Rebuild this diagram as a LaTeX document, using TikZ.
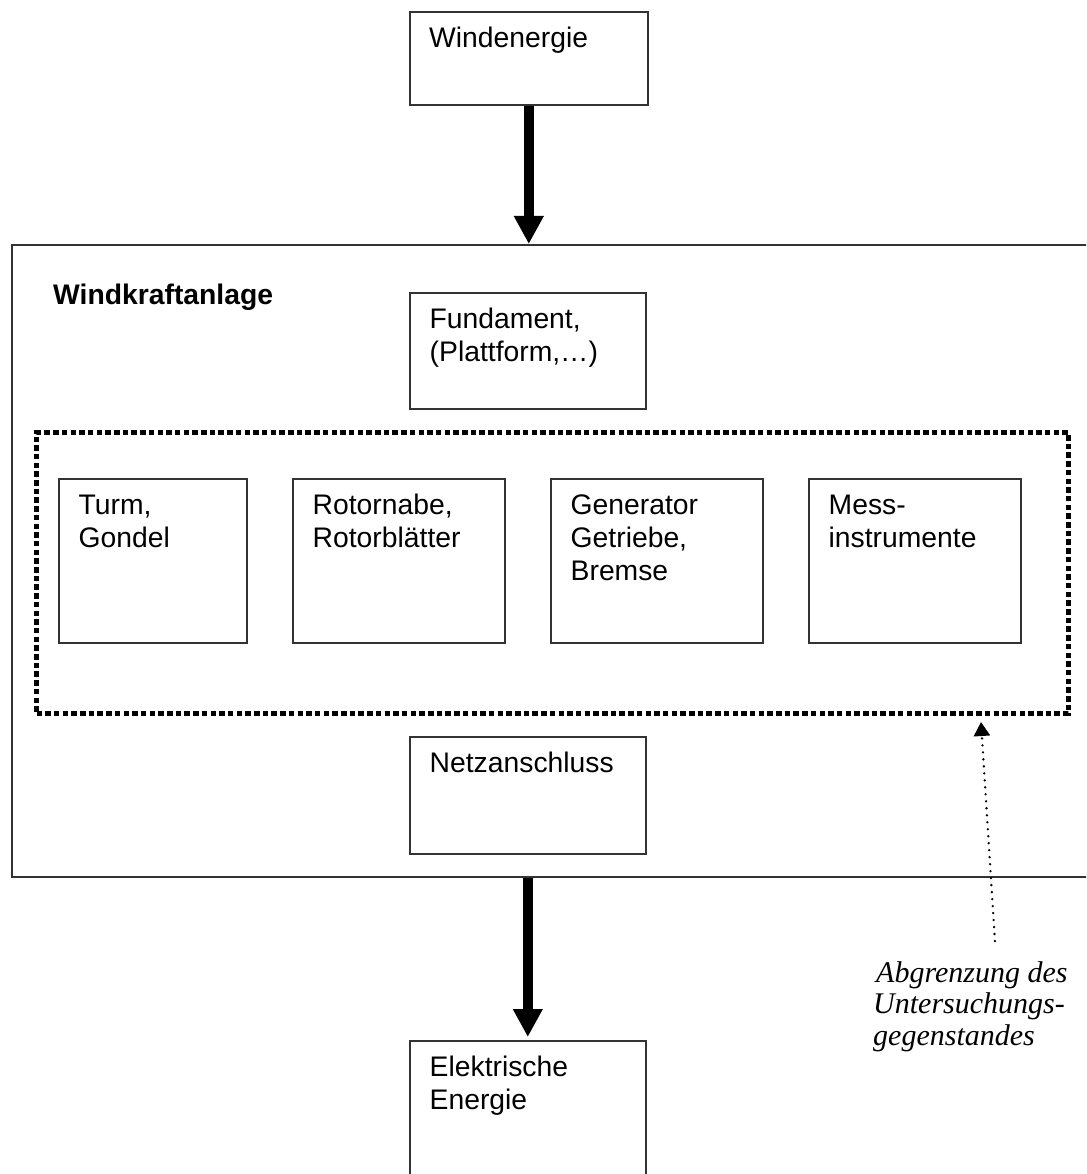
\documentclass[tikz,border=0pt]{standalone}
\usepackage{fontspec}
\setmainfont{Liberation Sans}
\newfontfamily\noteserif{Liberation Serif}
\usetikzlibrary{arrows.meta,calc}

\begin{document}
\begin{tikzpicture}[x=1pt,y=-1pt,
  box/.style={draw=black!80, line width=1.6pt, fill=none, anchor=north west, inner sep=0pt},
  % base anchor of a multi-line node sits on its last line
  txt/.style={anchor=base west, inner sep=0pt, align=left,
              font=\fontsize{28.3pt}{33pt}\selectfont},
  heading/.style={txt, font=\fontsize{28.3pt}{33pt}\selectfont\bfseries},
  note/.style={anchor=base west, inner sep=0pt, align=left,
               font=\fontsize{30pt}{31.5pt}\selectfont\noteserif\itshape},
  flow/.style={line width=10pt, -{Triangle[width=28pt,length=28pt]}},
  boundary/.style={draw=black, line width=5pt, dash pattern=on 5.5pt off 3.2pt},
  pointer/.style={line width=2.6pt, line cap=round, dash pattern=on 0pt off 7pt,
                  -{Triangle[width=16pt,length=14pt]}, shorten <=1pt}
]
\useasboundingbox (0,0) rectangle (1086,1174);
\clip (0,0) rectangle (1086,1174);
\fill[white] (0,0) rectangle (1086,1174);

% source
\node[box, minimum width=238pt, minimum height=93pt] (we) at (409,11) {};
\node[txt] (we-t) at ($(we.north west)+(20,36.5)$) {Windenergie};

% plant
\node[box, minimum width=1089pt, minimum height=632pt] (wka) at (11,244) {};
\node[heading] (wka-t) at (53,304.5) {Windkraftanlage};

\node[box, minimum width=236pt, minimum height=116pt] (fu) at (409,292) {};
\node[txt] (fu-t) at ($(fu.north west)+(20.5,69.5)$) {Fundament,\\(Plattform,\dots)};

% boundary of the investigated components
\node[boundary, anchor=north west, inner sep=0pt,
      minimum width=1032pt, minimum height=281pt] (grenze) at (34,430) {};

\node[box, minimum width=188pt, minimum height=164pt] (tu) at (58,478) {};
\node[txt] (tu-t) at ($(tu.north west)+(20.5,69.5)$) {Turm,\\Gondel};

\node[box, minimum width=212pt, minimum height=164pt] (ro) at (292,478) {};
\node[txt] (ro-t) at ($(ro.north west)+(20.5,69.5)$) {Rotornabe,\\Rotorbl\"atter};

\node[box, minimum width=212pt, minimum height=164pt] (ge) at (550,478) {};
\node[txt] (ge-t) at ($(ge.north west)+(20.5,102.5)$) {Generator\\Getriebe,\\Bremse};

\node[box, minimum width=212pt, minimum height=164pt] (me) at (808,478) {};
\node[txt] (me-t) at ($(me.north west)+(20.5,69.5)$) {Mess-\\instrumente};

\node[box, minimum width=236pt, minimum height=117pt] (ne) at (409,736) {};
\node[txt] (ne-t) at ($(ne.north west)+(20.5,36)$) {Netzanschluss};

% output
\node[box, minimum width=236pt, minimum height=160pt] (el) at (409,1040) {};
\node[txt] (el-t) at ($(el.north west)+(20.5,69)$) {Elektrische\\Energie};

% energy flow
\draw[flow] (we.south) -- (we.south |- wka.north);
\draw[flow, shorten >=3pt] (el.north |- wka.south) -- (el.north);

% annotation
\node[note] (abgr) at (873,1045) {\hspace{3pt}Abgrenzung des\\Untersuchungs-\\gegenstandes};
\coordinate (ptr) at (995,942);
\draw[pointer] (ptr) -- ($(grenze.south east)+(-90,6)$);
\end{tikzpicture}
\end{document}
